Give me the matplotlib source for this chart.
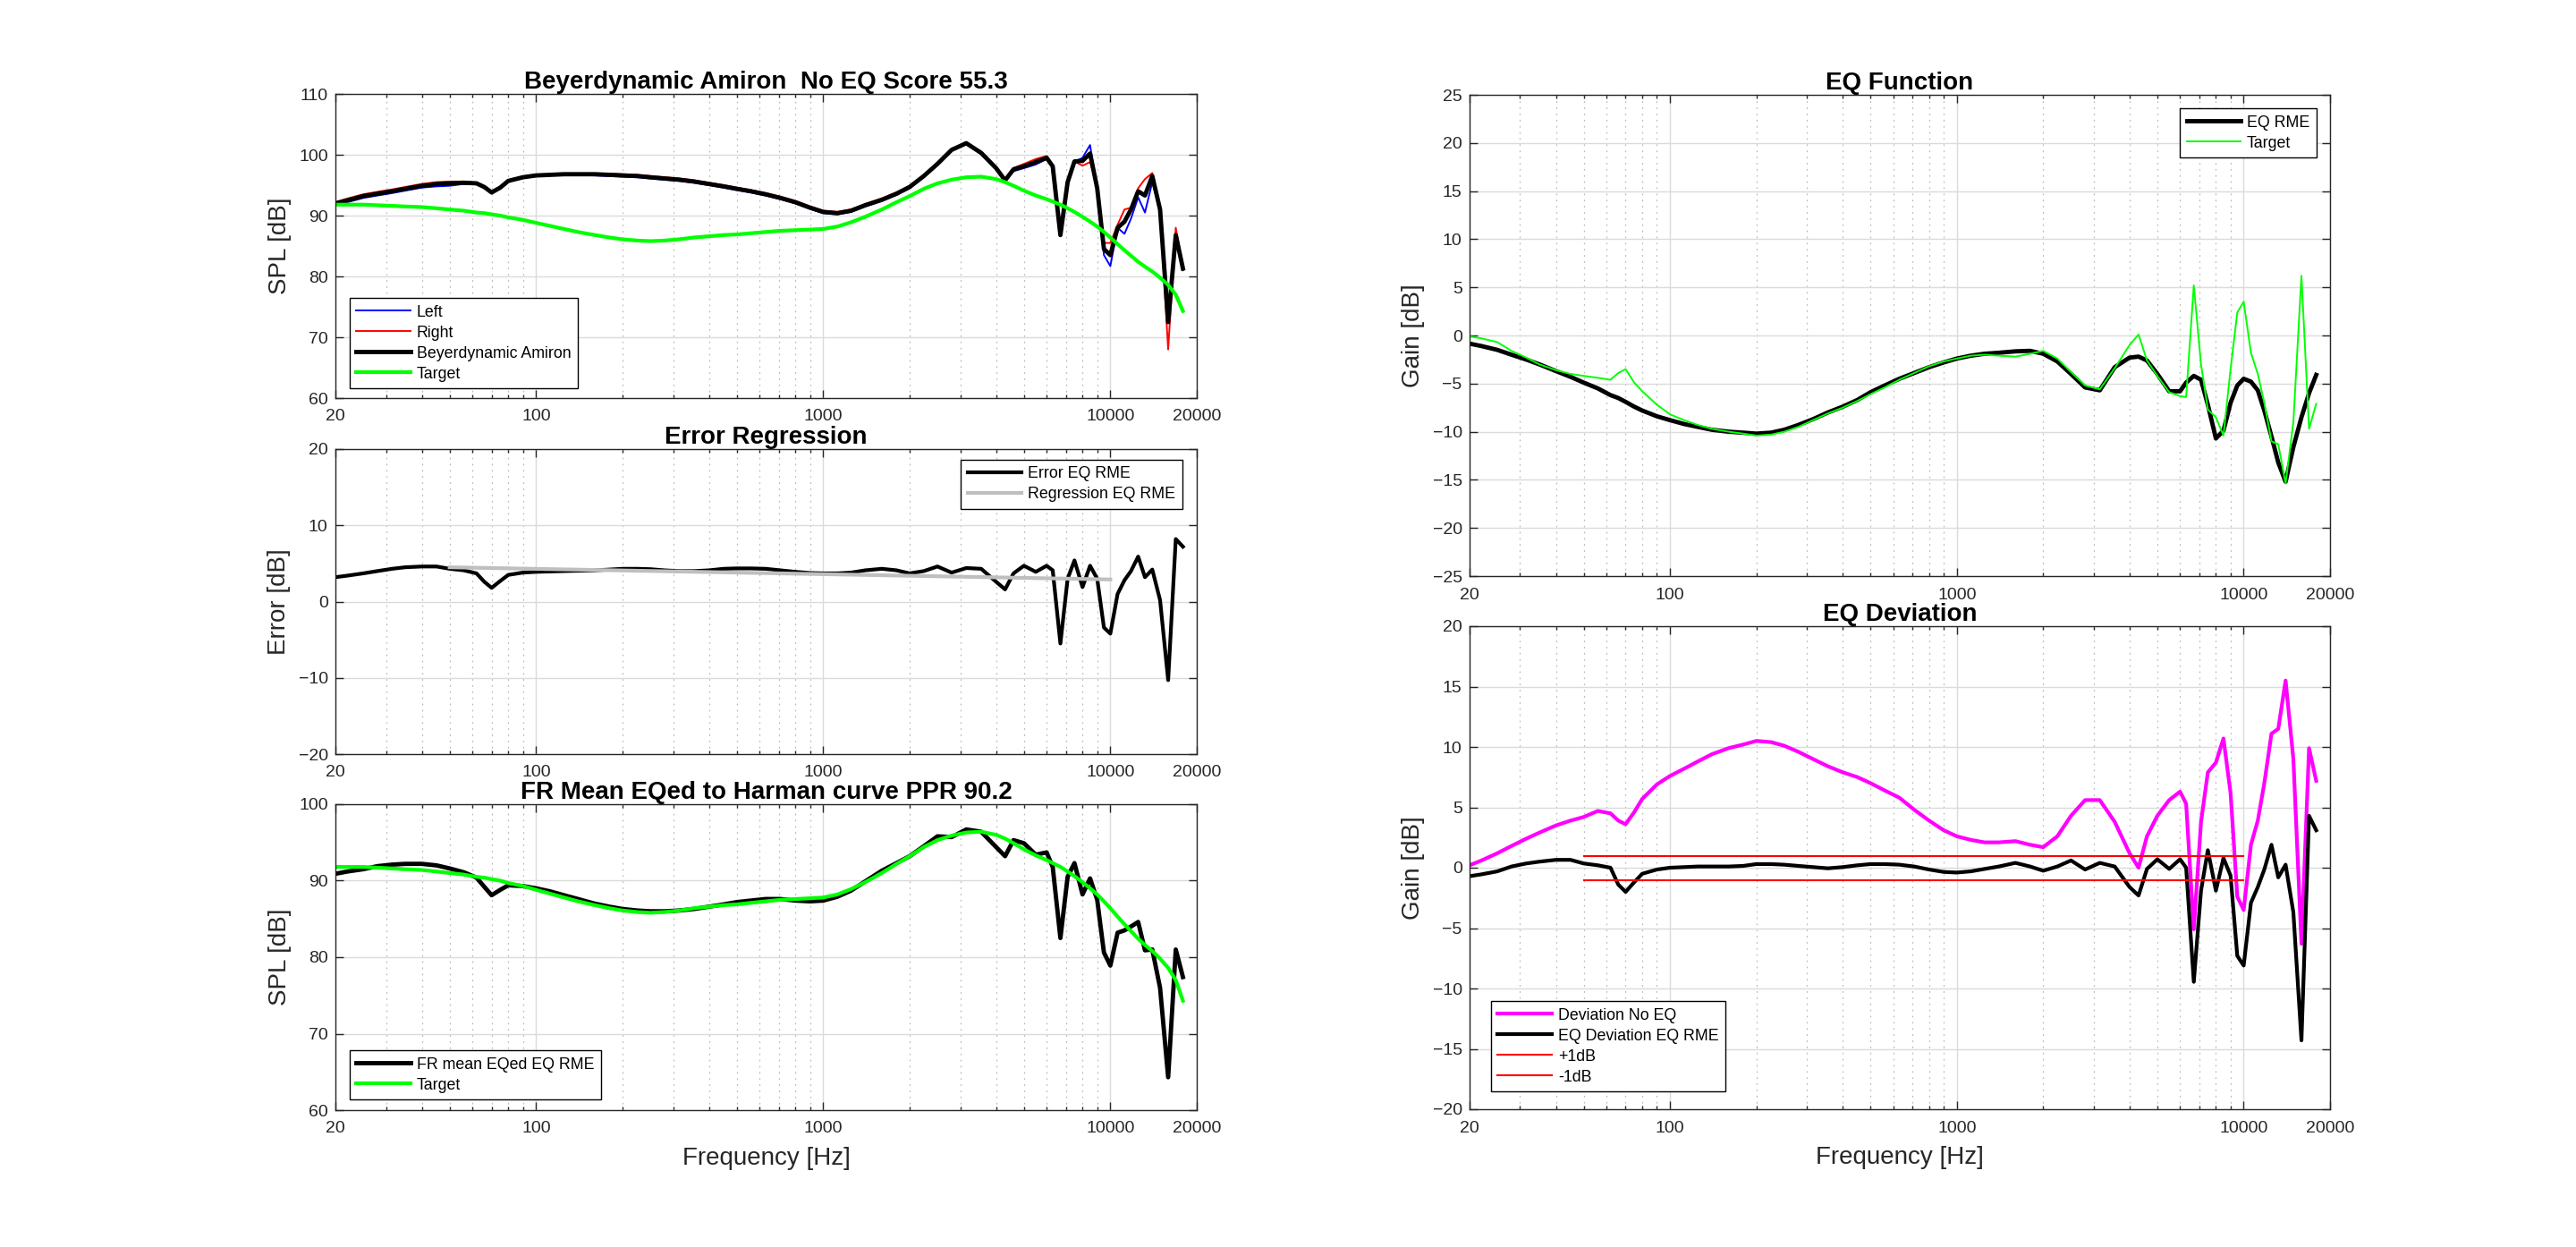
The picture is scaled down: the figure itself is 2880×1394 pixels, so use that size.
#import libraries
import numpy as np
import matplotlib
matplotlib.use('Agg')
import matplotlib.pyplot as plt
from matplotlib.ticker import FixedLocator, FixedFormatter, NullFormatter

plt.rcParams['font.family'] = ['Liberation Sans', 'DejaVu Sans']

# frequency grid [Hz]
freq = [20, 22, 25, 28, 31.5, 35, 40, 45, 50, 56,
        62, 66, 70, 75, 80, 90, 100, 112, 125, 140,
        160, 180, 200, 225, 250, 280, 315, 355, 400, 450,
        500, 560, 630, 710, 800, 900, 1000, 1120, 1250, 1400,
        1600, 1800, 2000, 2240, 2500, 2800, 3150, 3550, 4000, 4300,
        4600, 5000, 5500, 6000, 6300, 6700, 7100, 7500, 8000, 8500,
        9000, 9500, 10000, 10600, 11200, 11800, 12500, 13200, 14000, 14900,
        15900, 16900, 17900]

# measured FR (SPL dB)
fr_left = [91.7, 92.2, 92.9, 93.3, 93.7, 94.1, 94.6, 94.8, 94.9, 95.2,
           95.2, 94.6, 93.7, 94.5, 95.6, 96.2, 96.5, 96.6, 96.7, 96.7,
           96.6, 96.5, 96.4, 96.3, 96.1, 95.9, 95.7, 95.4, 95.0, 94.6,
           94.2, 93.8, 93.3, 92.7, 92.0, 91.1, 90.4, 90.2, 90.6, 91.5,
           92.4, 93.4, 94.5, 96.4, 98.4, 100.7, 101.9, 100.5, 97.9, 95.8,
           97.3, 97.8, 98.4, 99.3, 97.9, 86.6, 95.3, 98.8, 99.5, 101.6,
           94.0, 83.5, 81.7, 88.0, 87.0, 89.5, 93.0, 90.5, 95.5, 91.0,
           73.0, 86.0, 81.0]
fr_right = [92.2, 92.8, 93.5, 93.9, 94.3, 94.7, 95.2, 95.5, 95.6, 95.6,
            95.4, 94.8, 93.9, 94.7, 95.8, 96.4, 96.7, 96.8, 96.9, 96.9,
            96.9, 96.9, 96.8, 96.7, 96.5, 96.3, 96.1, 95.8, 95.4, 95.0,
            94.6, 94.2, 93.7, 93.1, 92.4, 91.5, 90.8, 90.6, 91.0, 91.9,
            92.8, 93.8, 94.9, 96.6, 98.6, 100.9, 101.9, 100.1, 97.7, 95.9,
            97.8, 98.5, 99.3, 99.8, 98.2, 87.0, 95.7, 98.9, 98.2, 98.8,
            95.0, 85.5, 85.5, 88.5, 91.0, 91.3, 94.5, 96.0, 97.0, 91.0,
            68.0, 88.0, 81.5]
fr_mean = [92.0, 92.5, 93.2, 93.6, 94.0, 94.4, 94.9, 95.2, 95.3, 95.4,
           95.3, 94.7, 93.8, 94.6, 95.7, 96.3, 96.6, 96.7, 96.8, 96.8,
           96.8, 96.7, 96.6, 96.5, 96.3, 96.1, 95.9, 95.6, 95.2, 94.8,
           94.4, 94.0, 93.5, 92.9, 92.2, 91.3, 90.6, 90.4, 90.8, 91.7,
           92.6, 93.6, 94.7, 96.5, 98.5, 100.8, 101.9, 100.3, 97.8, 95.8,
           97.6, 98.1, 98.8, 99.5, 98.1, 86.8, 95.5, 98.9, 99.0, 100.2,
           94.5, 84.5, 83.5, 88.0, 89.0, 91.0, 94.0, 93.3, 96.5, 91.0,
           72.5, 86.8, 81.3]
target = [91.8, 91.8, 91.8, 91.7, 91.6, 91.5, 91.4, 91.2, 91.0, 90.8,
          90.5, 90.4, 90.2, 90.0, 89.7, 89.3, 88.8, 88.3, 87.8, 87.3,
          86.8, 86.4, 86.1, 85.9, 85.8, 85.9, 86.1, 86.4, 86.6, 86.8,
          86.9, 87.1, 87.3, 87.5, 87.6, 87.7, 87.8, 88.2, 88.9, 89.8,
          91.0, 92.2, 93.2, 94.4, 95.3, 95.9, 96.3, 96.4, 96.0, 95.5,
          94.9, 94.1, 93.3, 92.7, 92.3, 91.8, 91.2, 90.6, 89.8, 89.0,
          88.2, 87.3, 86.4, 85.3, 84.3, 83.4, 82.4, 81.6, 80.8, 79.8,
          78.6, 77.0, 74.3]

# error regression
error_eq = [3.2, 3.4, 3.7, 4.0, 4.3, 4.5, 4.6, 4.6, 4.3, 4.1,
            3.7, 2.6, 1.8, 2.7, 3.5, 3.8, 3.9, 3.95, 4.0, 4.05,
            4.1, 4.2, 4.3, 4.3, 4.25, 4.1, 4.0, 4.0, 4.1, 4.3,
            4.35, 4.35, 4.3, 4.1, 3.9, 3.75, 3.7, 3.7, 3.8, 4.1,
            4.3, 4.1, 3.7, 4.0, 4.6, 3.8, 4.4, 4.3, 2.6, 1.6,
            3.7, 4.7, 3.9, 4.7, 4.1, -5.5, 3.0, 5.4, 1.9, 4.7,
            3.0, -3.4, -4.2, 1.0, 2.8, 4.0, 5.9, 3.2, 4.2, 0.2,
            -10.3, 8.2, 7.2]
reg_freq = [50, 10000]
reg_db = [4.5, 2.9]

# FR after EQ
fr_eq = [90.9, 91.2, 91.5, 91.9, 92.1, 92.2, 92.2, 92.0, 91.6, 91.1,
         90.4, 89.2, 88.1, 88.8, 89.4, 89.3, 89.0, 88.6, 88.1, 87.6,
         87.0, 86.6, 86.3, 86.1, 86.0, 86.0, 86.1, 86.3, 86.6, 86.9,
         87.2, 87.4, 87.6, 87.6, 87.4, 87.3, 87.4, 87.9, 88.7, 89.9,
         91.3, 92.3, 93.2, 94.5, 95.8, 95.7, 96.7, 96.4, 94.4, 93.2,
         95.3, 94.9, 93.4, 93.7, 91.8, 82.5, 90.5, 92.3, 88.2, 90.3,
         87.5, 80.6, 78.9, 83.2, 83.5, 84.0, 84.6, 80.9, 81.0, 76.0,
         64.3, 81.0, 77.4]

# EQ function (gain dB)
eq_rme = [-0.85, -1.1, -1.5, -2.0, -2.5, -3.0, -3.7, -4.3, -4.9, -5.5,
          -6.2, -6.5, -6.9, -7.4, -7.8, -8.4, -8.8, -9.2, -9.5, -9.8,
          -10.0, -10.1, -10.2, -10.1, -9.8, -9.3, -8.7, -8.0, -7.4, -6.7,
          -5.9, -5.2, -4.5, -3.9, -3.3, -2.8, -2.4, -2.1, -1.9, -1.8,
          -1.65, -1.6, -1.9, -2.7, -4.0, -5.4, -5.7, -3.3, -2.3, -2.2,
          -2.6, -4.0, -5.8, -5.8, -4.9, -4.2, -4.6, -7.2, -10.7, -9.9,
          -7.0, -5.2, -4.5, -4.8, -5.7, -7.8, -10.5, -13.2, -15.2, -11.6,
          -8.5, -6.0, -4.1]
eq_target = [-0.1, -0.3, -0.7, -1.6, -2.3, -3.0, -3.6, -4.0, -4.2, -4.4,
             -4.6, -3.9, -3.5, -4.9, -5.8, -7.2, -8.2, -8.8, -9.3, -9.7,
             -10.0, -10.2, -10.4, -10.3, -10.0, -9.5, -8.8, -8.1, -7.5, -6.8,
             -6.1, -5.4, -4.6, -3.9, -3.2, -2.7, -2.4, -2.1, -2.0, -2.1,
             -2.2, -1.9, -1.6, -2.4, -3.8, -5.2, -5.6, -3.4, -1.0, 0.1,
             -2.6, -4.2, -5.9, -6.3, -6.4, 5.2, -3.0, -7.7, -8.5, -10.4,
             -3.5, 2.4, 3.5, -1.8, -4.0, -7.0, -11.0, -11.3, -15.4, -9.0,
             6.2, -9.7, -7.1]

# EQ deviation (gain dB)
dev_noeq = [0.2, 0.6, 1.2, 1.8, 2.4, 2.9, 3.5, 3.9, 4.2, 4.7,
            4.5, 3.9, 3.6, 4.6, 5.7, 6.9, 7.6, 8.2, 8.8, 9.4,
            9.9, 10.2, 10.5, 10.4, 10.1, 9.6, 9.0, 8.4, 7.9, 7.5,
            7.0, 6.4, 5.8, 4.8, 3.9, 3.1, 2.6, 2.3, 2.1, 2.1,
            2.2, 1.9, 1.7, 2.6, 4.3, 5.6, 5.6, 3.8, 1.2, 0.0,
            2.6, 4.3, 5.6, 6.3, 5.3, -5.1, 3.8, 7.9, 8.7, 10.7,
            6.2, -2.4, -3.5, 1.9, 3.9, 7.0, 11.1, 11.5, 15.5, 9.0,
            -6.3, 9.9, 7.2]
dev_eq = [-0.7, -0.55, -0.3, 0.1, 0.35, 0.5, 0.65, 0.65, 0.35, 0.2,
          0.0, -1.4, -2.0, -1.2, -0.5, -0.15, 0.0, 0.05, 0.1, 0.1,
          0.1, 0.15, 0.3, 0.3, 0.25, 0.15, 0.05, -0.05, 0.05, 0.2,
          0.3, 0.3, 0.25, 0.1, -0.15, -0.35, -0.4, -0.3, -0.1, 0.1,
          0.4, 0.1, -0.25, 0.1, 0.6, -0.15, 0.4, 0.1, -1.6, -2.3,
          -0.1, 0.7, -0.1, 0.7, 0.0, -9.45, -1.9, 1.45, -1.9, 0.8,
          -0.65, -7.3, -8.1, -2.9, -1.6, -0.15, 1.9, -0.8, 0.25, -3.7,
          -14.3, 4.3, 3.1]
tol_freq = [50, 10000]
tol_plus = [1, 1]
tol_minus = [-1, -1]

W, H = 2880, 1394
fig = plt.figure(figsize=(W / 100, H / 100), dpi=100)

def px_axes(x0, y_top, w, h):
    return fig.add_axes([x0 / W, (H - y_top - h) / H, w / W, h / H])

dark = (0.15, 0.15, 0.15)
minor_f = [30, 40, 50, 60, 70, 80, 90, 200, 300, 400, 500, 600, 700, 800, 900,
           2000, 3000, 4000, 5000, 6000, 7000, 8000, 9000]

def style(ax, ylim, yticks, title, ylabel, xlabel=None):
    ax.set_xscale('log')
    ax.set_xlim(20, 20000)
    ax.set_ylim(*ylim)
    ax.xaxis.set_major_locator(FixedLocator([20, 100, 1000, 10000, 20000]))
    ax.xaxis.set_major_formatter(FixedFormatter(['20', '100', '1000', '10000', '20000']))
    ax.xaxis.set_minor_locator(FixedLocator(minor_f))
    ax.xaxis.set_minor_formatter(NullFormatter())
    ax.set_yticks(yticks)
    ax.grid(True, which='major', color=(0.86, 0.86, 0.86), lw=1.0)
    ax.grid(True, which='minor', axis='x', color=(0.74, 0.74, 0.74), ls=(0, (1.5, 4)), lw=0.9)
    ax.set_axisbelow(True)
    ax.tick_params(which='both', direction='in', top=True, right=True, colors=dark, labelsize=14)
    ax.tick_params(which='major', length=6.5, width=1)
    ax.tick_params(which='minor', length=3, width=1)
    ax.tick_params(axis='x', which='both', pad=9)
    ax.tick_params(axis='y', which='both', pad=6)
    for s in ax.spines.values():
        s.set_color(dark)
        s.set_linewidth(1.0)
    ax.set_title(title, fontsize=20, fontweight='bold', pad=1.5)
    ax.set_ylabel(ylabel, fontsize=20, color=dark, labelpad=6)
    if xlabel:
        ax.set_xlabel(xlabel, fontsize=20, color=dark, labelpad=8)

def legend(ax, loc, anchor):
    leg = ax.legend(loc=loc, bbox_to_anchor=anchor, borderaxespad=0, fontsize=12.75,
                    fancybox=False, edgecolor='black', framealpha=1, handlelength=3.4,
                    labelspacing=0.34, handletextpad=0.4, borderpad=0.42)
    leg.get_frame().set_linewidth(1.0)

# top-left: raw FR
ax1 = px_axes(375, 105, 963, 340)
ax1.plot(freq, fr_left, color='blue', lw=1.4, label='Left')
ax1.plot(freq, fr_right, color='red', lw=1.4, label='Right')
ax1.plot(freq, fr_mean, color='black', lw=3.5, label='Beyerdynamic Amiron')
ax1.plot(freq, target, color=(0, 1, 0), lw=3.0, label='Target')
style(ax1, (60, 110), [60, 70, 80, 90, 100, 110], 'Beyerdynamic Amiron  No EQ Score 55.3', 'SPL [dB]')
legend(ax1, 'lower left', (0.0166, 0.032))

# middle-left: error regression
ax2 = px_axes(375, 502, 963, 341)
ax2.plot(freq, error_eq, color='black', lw=3.0, label='Error EQ RME')
ax2.plot(reg_freq, reg_db, color=(0.75, 0.75, 0.75), lw=3.0, label='Regression EQ RME')
style(ax2, (-20, 20), [-20, -10, 0, 10, 20], 'Error Regression', 'Error [dB]')
legend(ax2, 'upper right', (0.983, 0.965))

# bottom-left: FR after EQ
ax3 = px_axes(375, 899, 963, 342)
ax3.plot(freq, fr_eq, color='black', lw=3.5, label='FR mean EQed EQ RME')
ax3.plot(freq, target, color=(0, 1, 0), lw=3.0, label='Target')
style(ax3, (60, 100), [60, 70, 80, 90, 100], 'FR Mean EQed to Harman curve PPR 90.2',
      'SPL [dB]', 'Frequency [Hz]')
legend(ax3, 'lower left', (0.0166, 0.035))

# top-right: EQ function
ax4 = px_axes(1643, 106, 962, 538)
ax4.plot(freq, eq_rme, color='black', lw=3.5, label='EQ RME')
ax4.plot(freq, eq_target, color=(0, 1, 0), lw=1.4, label='Target')
style(ax4, (-25, 25), list(range(-25, 30, 5)), 'EQ Function', 'Gain [dB]')
legend(ax4, 'upper right', (0.984, 0.972))

# bottom-right: EQ deviation
ax5 = px_axes(1643, 700, 962, 540)
ax5.plot(freq, dev_noeq, color=(1, 0, 1), lw=3.0, label='Deviation No EQ')
ax5.plot(freq, dev_eq, color='black', lw=3.0, label='EQ Deviation EQ RME')
ax5.plot(tol_freq, tol_plus, color='red', lw=1.5, label='+1dB')
ax5.plot(tol_freq, tol_minus, color='red', lw=1.5, label='-1dB')
style(ax5, (-20, 20), list(range(-20, 25, 5)), 'EQ Deviation', 'Gain [dB]', 'Frequency [Hz]')
legend(ax5, 'lower left', (0.025, 0.037))

fig.savefig('out.png', dpi=100, facecolor='white')
